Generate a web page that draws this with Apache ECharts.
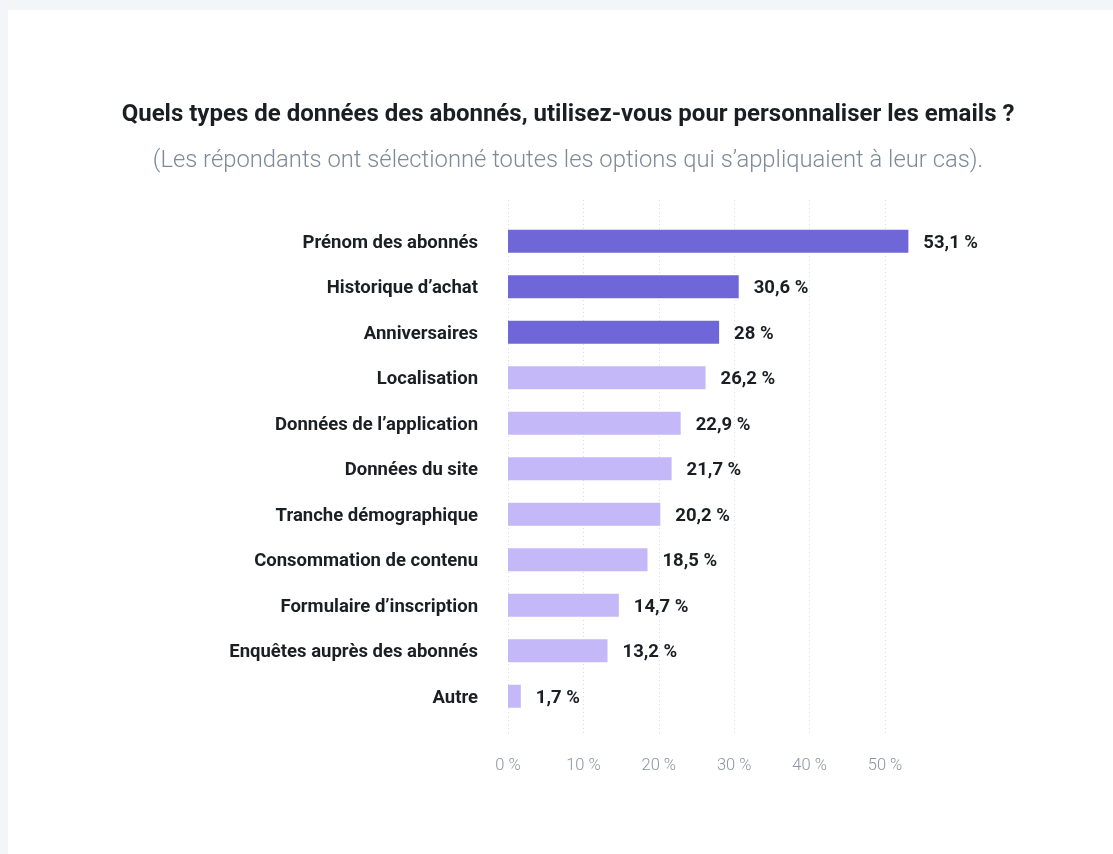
<!DOCTYPE html>
<html>
<head>
<meta charset="utf-8">
<script src="https://cdn.jsdelivr.net/npm/echarts@6/dist/echarts.min.js"></script>
<style>
  html, body { margin: 0; padding: 0; background: #f3f6f9; width: 1113px; height: 854px; overflow: hidden; }
  #card { position: absolute; left: 8px; top: 10px; width: 1105px; height: 844px; background: #ffffff; }
  #chart { width: 100%; height: 100%; }
</style>
</head>
<body>
<div id="card"><div id="chart"></div></div>
<script>
// Survey answers, top to bottom
const categories = [
  'Prénom des abonnés',
  'Historique d\u2019achat',
  'Anniversaires',
  'Localisation',
  'Données de l\u2019application',
  'Données du site',
  'Tranche démographique',
  'Consommation de contenu',
  'Formulaire d\u2019inscription',
  'Enquêtes auprès des abonnés',
  'Autre'
];
// Share of respondents (%)
const values = [53.1, 30.6, 28, 26.2, 22.9, 21.7, 20.2, 18.5, 14.7, 13.2, 1.7];
// The first answers are highlighted in the darker shade
const highlightCount = 3;
const axisTicks = [0, 10, 20, 30, 40, 50];

const darkColor = '#6f67d8';
const lightColor = '#c5b8f8';
const fmt = v => String(v).replace('.', ',') + ' %';

const chart = echarts.init(document.getElementById('chart'), null, { renderer: 'canvas' });

const plotLeft = 500, plotWidth = 377;

chart.setOption({
  backgroundColor: '#ffffff',
  animation: false,
  title: [{
    text: 'Quels types de données des abonnés, utilisez-vous pour personnaliser les emails ?',
    left: 555, top: 88, textAlign: 'center',
    textStyle: { fontFamily: 'Roboto', fontWeight: 'bold', fontSize: 24, color: '#1b1f24' }
  }, {
    text: '(Les répondants ont sélectionné toutes les options qui s\u2019appliquaient à leur cas).',
    left: 555, top: 134, textAlign: 'center',
    textStyle: { fontFamily: 'Roboto', fontWeight: 300, fontSize: 23.8, color: '#7d8a97' }
  }],
  grid: [
    // grid carrying the dotted guides and the percent scale
    { left: plotLeft, width: plotWidth, top: 190, height: 536 },
    // grid carrying the bars
    { left: plotLeft, width: plotWidth, top: 208.5, height: 500.5 }
  ],
  xAxis: [{
    gridIndex: 0, type: 'value', min: axisTicks[0], max: axisTicks[axisTicks.length - 1], interval: 10,
    axisLine: { show: false }, axisTick: { show: false },
    splitLine: { show: true, lineStyle: { color: '#d9dde2', width: 1, type: [1, 3] } },
    axisLabel: {
      margin: 21, fontFamily: 'Roboto', fontWeight: 300, fontSize: 16.5, color: '#8b96a1',
      formatter: v => v + ' %'
    }
  }, {
    gridIndex: 1, type: 'value', min: axisTicks[0], max: axisTicks[axisTicks.length - 1], interval: 10,
    show: false, splitLine: { show: false }
  }],
  yAxis: [{
    gridIndex: 0, type: 'category', data: categories, show: false
  }, {
    gridIndex: 1, type: 'category', data: categories, inverse: true,
    axisLine: { show: false }, axisTick: { show: false }, splitLine: { show: false },
    axisLabel: {
      margin: 30,
      formatter: v => '{c|' + v + '}',
      rich: {
        c: {
          fontFamily: 'Roboto', fontWeight: 'bold', fontSize: 18.5, color: '#1b1f24',
          padding: [4, 0, 0, 0]
        }
      }
    }
  }],
  series: [{
    type: 'bar',
    xAxisIndex: 1, yAxisIndex: 1,
    clip: false,
    barWidth: 23,
    data: values.map((v, i) => ({
      value: v,
      itemStyle: { color: i < highlightCount ? darkColor : lightColor }
    })),
    label: {
      show: true, position: 'right', distance: 15, offset: [0, 2],
      fontFamily: 'Roboto', fontWeight: 'bold', fontSize: 18.5, color: '#1b1f24',
      formatter: p => fmt(p.value)
    }
  }]
});
</script>
</body>
</html>
